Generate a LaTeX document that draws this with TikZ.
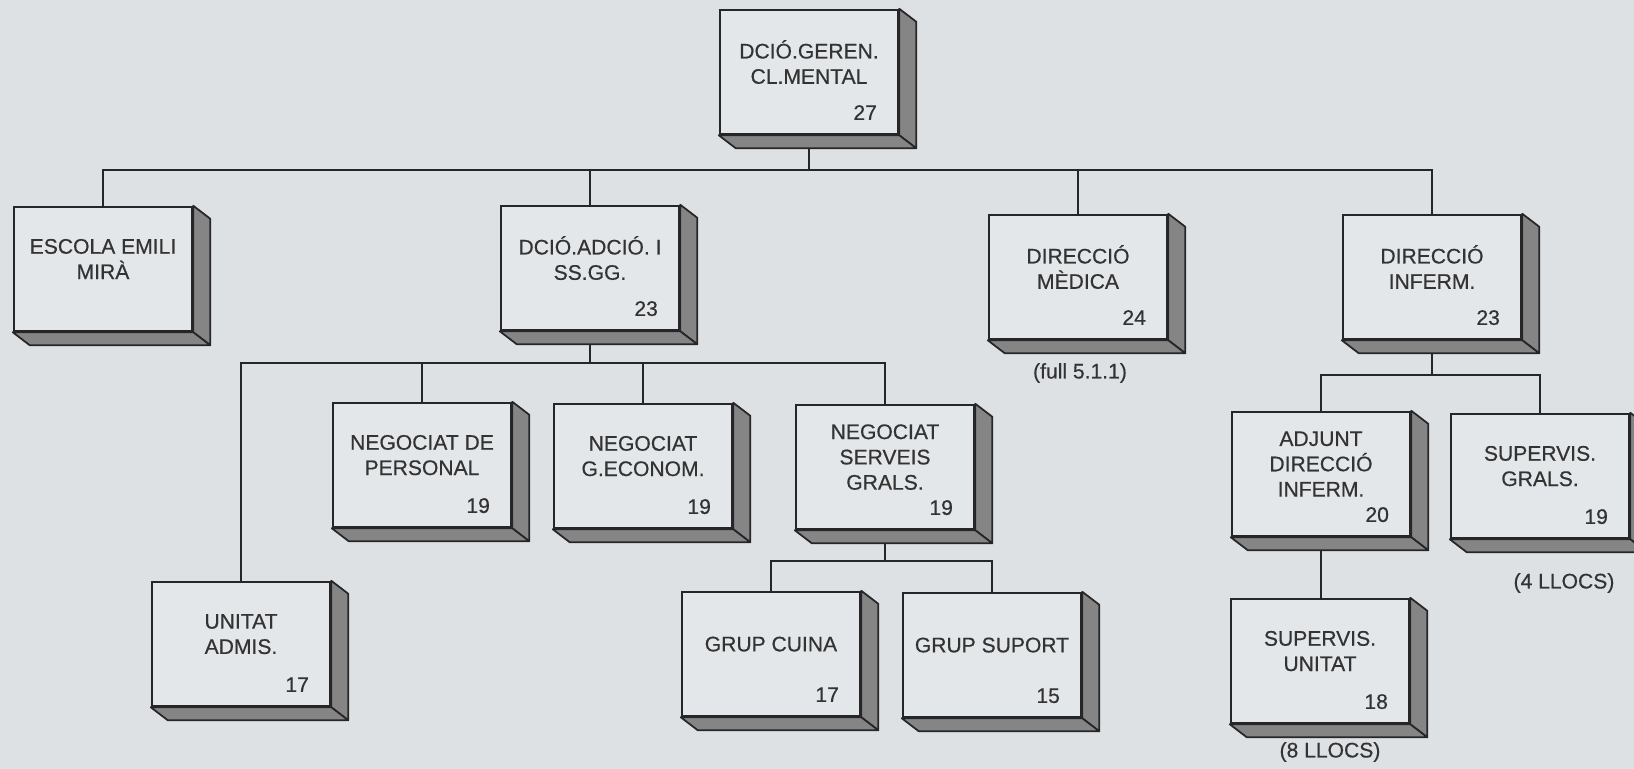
\documentclass[tikz,border=0pt]{standalone}
\usepackage{fontspec}
\setmainfont{Liberation Sans}[FakeBold=0.5]
\usepackage{tikz}
\definecolor{paper}{RGB}{221,225,228}
\definecolor{face}{RGB}{228,231,233}
\definecolor{ink}{RGB}{38,38,40}

\begin{document}
\begin{tikzpicture}[x=0.2mm, y=-0.2mm,
  font=\fontsize{12}{14.4}\selectfont,
  post/.style={draw=ink, line width=0.5mm, fill=face, inner sep=0pt,
    minimum width=35.6mm, minimum height=24.8mm, align=center,
    text=black!80, text depth=4mm},
  lvl/.style={label={[anchor=south east, xshift=-4.4mm, yshift=3mm,
    inner sep=0pt, text depth=0pt, text=black!80]south east:#1}},
  side/.style={draw=ink, line width=0.35mm, fill=black!48, line join=round},
  link/.style={draw=ink, line width=0.4mm},
  note/.style={text=black!80}]
\fill[paper] (0,0) rectangle (1634,769);
\useasboundingbox (0,0) rectangle (1634,769);
\clip (0,0) rectangle (1634,769);

% top and first level
\node[post, lvl=27] (geren) at (809,72) {DCIÓ.GEREN.\\CL.MENTAL};
\node[post] (escola) at (103,269) {ESCOLA EMILI\\MIRÀ};
\node[post, lvl=23] (adcio) at (590,268) {DCIÓ.ADCIÓ. I\\SS.GG.};
\node[post, lvl=24] (medica) at (1078,277) {DIRECCIÓ\\MÈDICA};
\node[post, lvl=23] (inferm) at (1432,277) {DIRECCIÓ\\INFERM.};

% administracio
\node[post, lvl=19] (personal) at (422,465) {NEGOCIAT DE\\PERSONAL};
\node[post, lvl=19] (econom) at (643,466) {NEGOCIAT\\G.ECONOM.};
\node[post, lvl=19] (serveis) at (885,467) {NEGOCIAT\\SERVEIS\\GRALS.};
\node[post, lvl=17] (unitat) at (241,644) {UNITAT\\ADMIS.};
\node[post, lvl=17] (cuina) at (771,654) {GRUP CUINA};
\node[post, lvl=15] (suport) at (992,655) {GRUP SUPORT};

% infermeria
\node[post, lvl=20] (adjunt) at (1321,474) {ADJUNT\\DIRECCIÓ\\INFERM.};
\node[post, lvl=19] (gralss) at (1540,476) {SUPERVIS.\\GRALS.};
\node[post, lvl=18] (supunitat) at (1320,661) {SUPERVIS.\\UNITAT};

\node[note] (full) at (1080,373) {(full 5.1.1)};
\node[note] (llocs4) at (1564,583) {(4 LLOCS)};
\node[note] (llocs8) at (1330,752) {(8 LLOCS)};

\coordinate (j1) at (geren.south |- 0,170);
\coordinate (j2) at (adcio.south |- 0,363);
\coordinate (j3) at (serveis.south |- 0,561);
\coordinate (j4) at (inferm.south |- 0,375);
\draw[link] (geren.south) -- (j1);
\foreach \c in {escola,adcio,medica,inferm} \draw[link] (j1) -| (\c.north);
\draw[link] (adcio.south) -- (j2);
\foreach \c in {unitat,personal,econom,serveis} \draw[link] (j2) -| (\c.north);
\draw[link] (serveis.south) -- (j3);
\foreach \c in {cuina,suport} \draw[link] (j3) -| (\c.north);
\draw[link] (inferm.south) -- (j4);
\foreach \c in {adjunt,gralss} \draw[link] (j4) -| (\c.north);
\draw[link] (adjunt.south) -- (adjunt.south |- supunitat.north);

% depth of the boxes
\foreach \b in {geren,escola,adcio,medica,inferm,personal,econom,serveis,
    unitat,cuina,suport,adjunt,gralss,supunitat} {
  \filldraw[side] (\b.north east) -- ++(17,13)
    -- ([shift={(17,13)}]\b.south east) -- (\b.south east) -- cycle;
  \filldraw[side] (\b.south west) -- ++(17,13)
    -- ([shift={(17,13)}]\b.south east) -- (\b.south east) -- cycle;
}
\end{tikzpicture}
\end{document}
